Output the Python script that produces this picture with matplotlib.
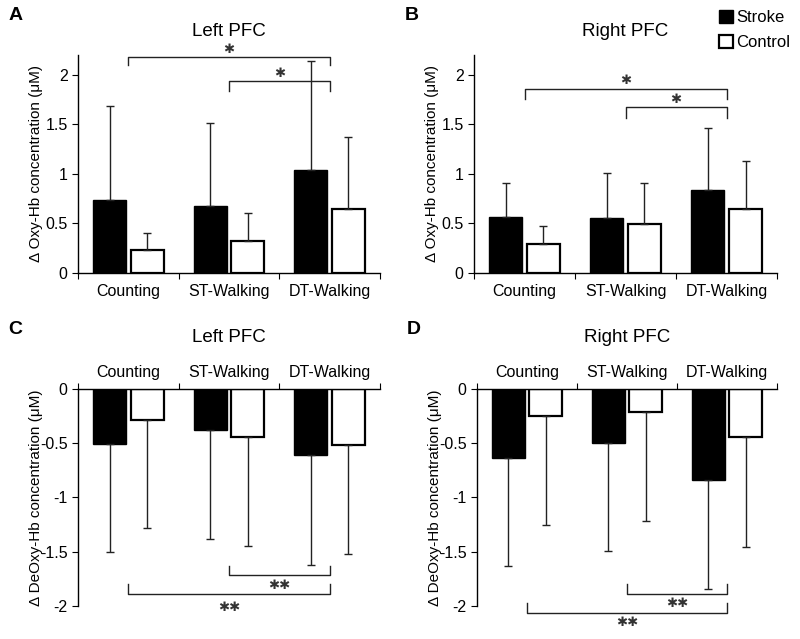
import matplotlib
matplotlib.use("Agg")
import matplotlib.pyplot as plt
import numpy as np
from matplotlib.patches import Patch

plt.rcParams["font.family"] = ["Liberation Sans", "DejaVu Sans"]
plt.rcParams["axes.unicode_minus"] = False

tasks = ["Counting", "ST-Walking", "DT-Walking"]

# panel A: left PFC, oxy-Hb
a_stroke = [0.74, 0.67, 1.04]
a_stroke_sd = [0.94, 0.84, 1.10]
a_control = [0.23, 0.32, 0.64]
a_control_sd = [0.17, 0.28, 0.73]

# panel B: right PFC, oxy-Hb
b_stroke = [0.56, 0.55, 0.84]
b_stroke_sd = [0.35, 0.46, 0.62]
b_control = [0.29, 0.49, 0.64]
b_control_sd = [0.18, 0.42, 0.49]

# panel C: left PFC, deoxy-Hb
c_stroke = [-0.51, -0.38, -0.61]
c_stroke_sd = [0.99, 1.00, 1.01]
c_control = [-0.285, -0.44, -0.52]
c_control_sd = [1.00, 1.005, 1.00]

# panel D: right PFC, deoxy-Hb
d_stroke = [-0.64, -0.50, -0.84]
d_stroke_sd = [0.99, 0.99, 1.00]
d_control = [-0.25, -0.21, -0.445]
d_control_sd = [1.00, 1.005, 1.01]

# brackets: (from, to, line y, tip y, label, label y)
a_brackets = [(0, 2, 2.18, 2.10, "✱", 2.26), (1, 2, 1.94, 1.84, "✱", 2.01)]
b_brackets = [(0, 2, 1.86, 1.76, "✱", 1.94), (1, 2, 1.67, 1.56, "✱", 1.75)]
c_brackets = [(1, 2, -1.71, -1.63, "✱✱", -1.81), (0, 2, -1.89, -1.80, "✱✱", -2.01)]
d_brackets = [(1, 2, -1.89, -1.80, "✱✱", -1.98), (0, 2, -2.06, -1.97, "✱✱", -2.15)]

fig = plt.figure(figsize=(8, 6.39), dpi=100)

panels = [
    ("A", "Left PFC", [0.0975, 0.573, 0.3775, 0.341], a_stroke, a_stroke_sd, a_control, a_control_sd, a_brackets, True),
    ("B", "Right PFC", [0.5925, 0.573, 0.379, 0.341], b_stroke, b_stroke_sd, b_control, b_control_sd, b_brackets, True),
    ("C", "Left PFC", [0.0975, 0.0516, 0.3775, 0.34], c_stroke, c_stroke_sd, c_control, c_control_sd, c_brackets, False),
    ("D", "Right PFC", [0.596, 0.0516, 0.375, 0.34], d_stroke, d_stroke_sd, d_control, d_control_sd, d_brackets, False),
]

x = np.arange(len(tasks))
w = 0.33
off = 0.187

for letter, title, rect, s, s_sd, c, c_sd, brackets, oxy in panels:
    ax = fig.add_axes(rect)
    zeros = [0] * 3
    if oxy:
        s_err = [zeros, s_sd]
        c_err = [zeros, c_sd]
    else:
        s_err = [s_sd, zeros]
        c_err = [c_sd, zeros]
    ax.bar(x - off, s, w, color="black", edgecolor="black", linewidth=1,
           yerr=s_err, error_kw=dict(ecolor="#222222", elinewidth=1, capsize=3, capthick=1))
    ax.bar(x + off, c, w, color="white", edgecolor="black", linewidth=1.6,
           yerr=c_err, error_kw=dict(ecolor="#222222", elinewidth=1, capsize=3, capthick=1))

    ax.set_xlim(-0.5, 2.5)
    ax.set_xticks([-0.5, 0.5, 1.5, 2.5])
    ax.set_xticklabels([])
    ax.set_xticks(x, minor=True)
    ax.set_xticklabels(tasks, minor=True, fontsize=11.5)
    ax.tick_params(axis="x", which="minor", length=0)
    ax.tick_params(axis="x", which="major", length=4, direction="out")
    ax.tick_params(axis="y", length=4, labelsize=11.5)
    ax.spines["right"].set_visible(False)

    if oxy:
        ax.set_ylim(0, 2.2)
        ax.set_yticks([0, 0.5, 1, 1.5, 2])
        ax.set_yticklabels(["0", "0.5", "1", "1.5", "2"])
        ax.spines["top"].set_visible(False)
        ax.set_ylabel("Δ Oxy-Hb concentration (μM)", fontsize=11, labelpad=2)
        ax.tick_params(axis="x", which="minor", pad=8)
        ax.set_title(title, fontsize=13.5, pad=14)
    else:
        ax.set_ylim(-2, 0)
        ax.set_yticks([0, -0.5, -1, -1.5, -2])
        ax.set_yticklabels(["0", "-0.5", "-1", "-1.5", "-2"])
        ax.spines["bottom"].set_visible(False)
        ax.xaxis.tick_top()
        ax.tick_params(axis="x", which="minor", pad=6)
        ax.set_ylabel("Δ DeOxy-Hb concentration (μM)", fontsize=11, labelpad=-2)
        ax.set_title(title, fontsize=13.5, pad=34)

    for sp in ax.spines.values():
        sp.set_linewidth(1)

    for i, j, yl, yt, lab, ly in brackets:
        ax.plot([i, i, j, j], [yt, yl, yl, yt], color="#222222", lw=1, clip_on=False)
        ax.text((i + j) / 2, ly, lab, ha="center", va="center", fontsize=9.5,
                family="DejaVu Sans", color="#333333", clip_on=False)

    fig.text(rect[0] - 0.087, 0.975 if oxy else 0.485, letter, fontsize=14,
             fontweight="bold", ha="left", va="center")

handles = [Patch(facecolor="black", edgecolor="black"),
           Patch(facecolor="white", edgecolor="black", linewidth=1.6)]
fig.legend(handles, ["Stroke", "Control"], loc="upper right",
           bbox_to_anchor=(1.0, 1.0), frameon=False, fontsize=12,
           handlelength=0.8, handleheight=0.8, handletextpad=0.2,
           labelspacing=0.6, borderaxespad=0.2)

fig.savefig("out.png", dpi=100)
